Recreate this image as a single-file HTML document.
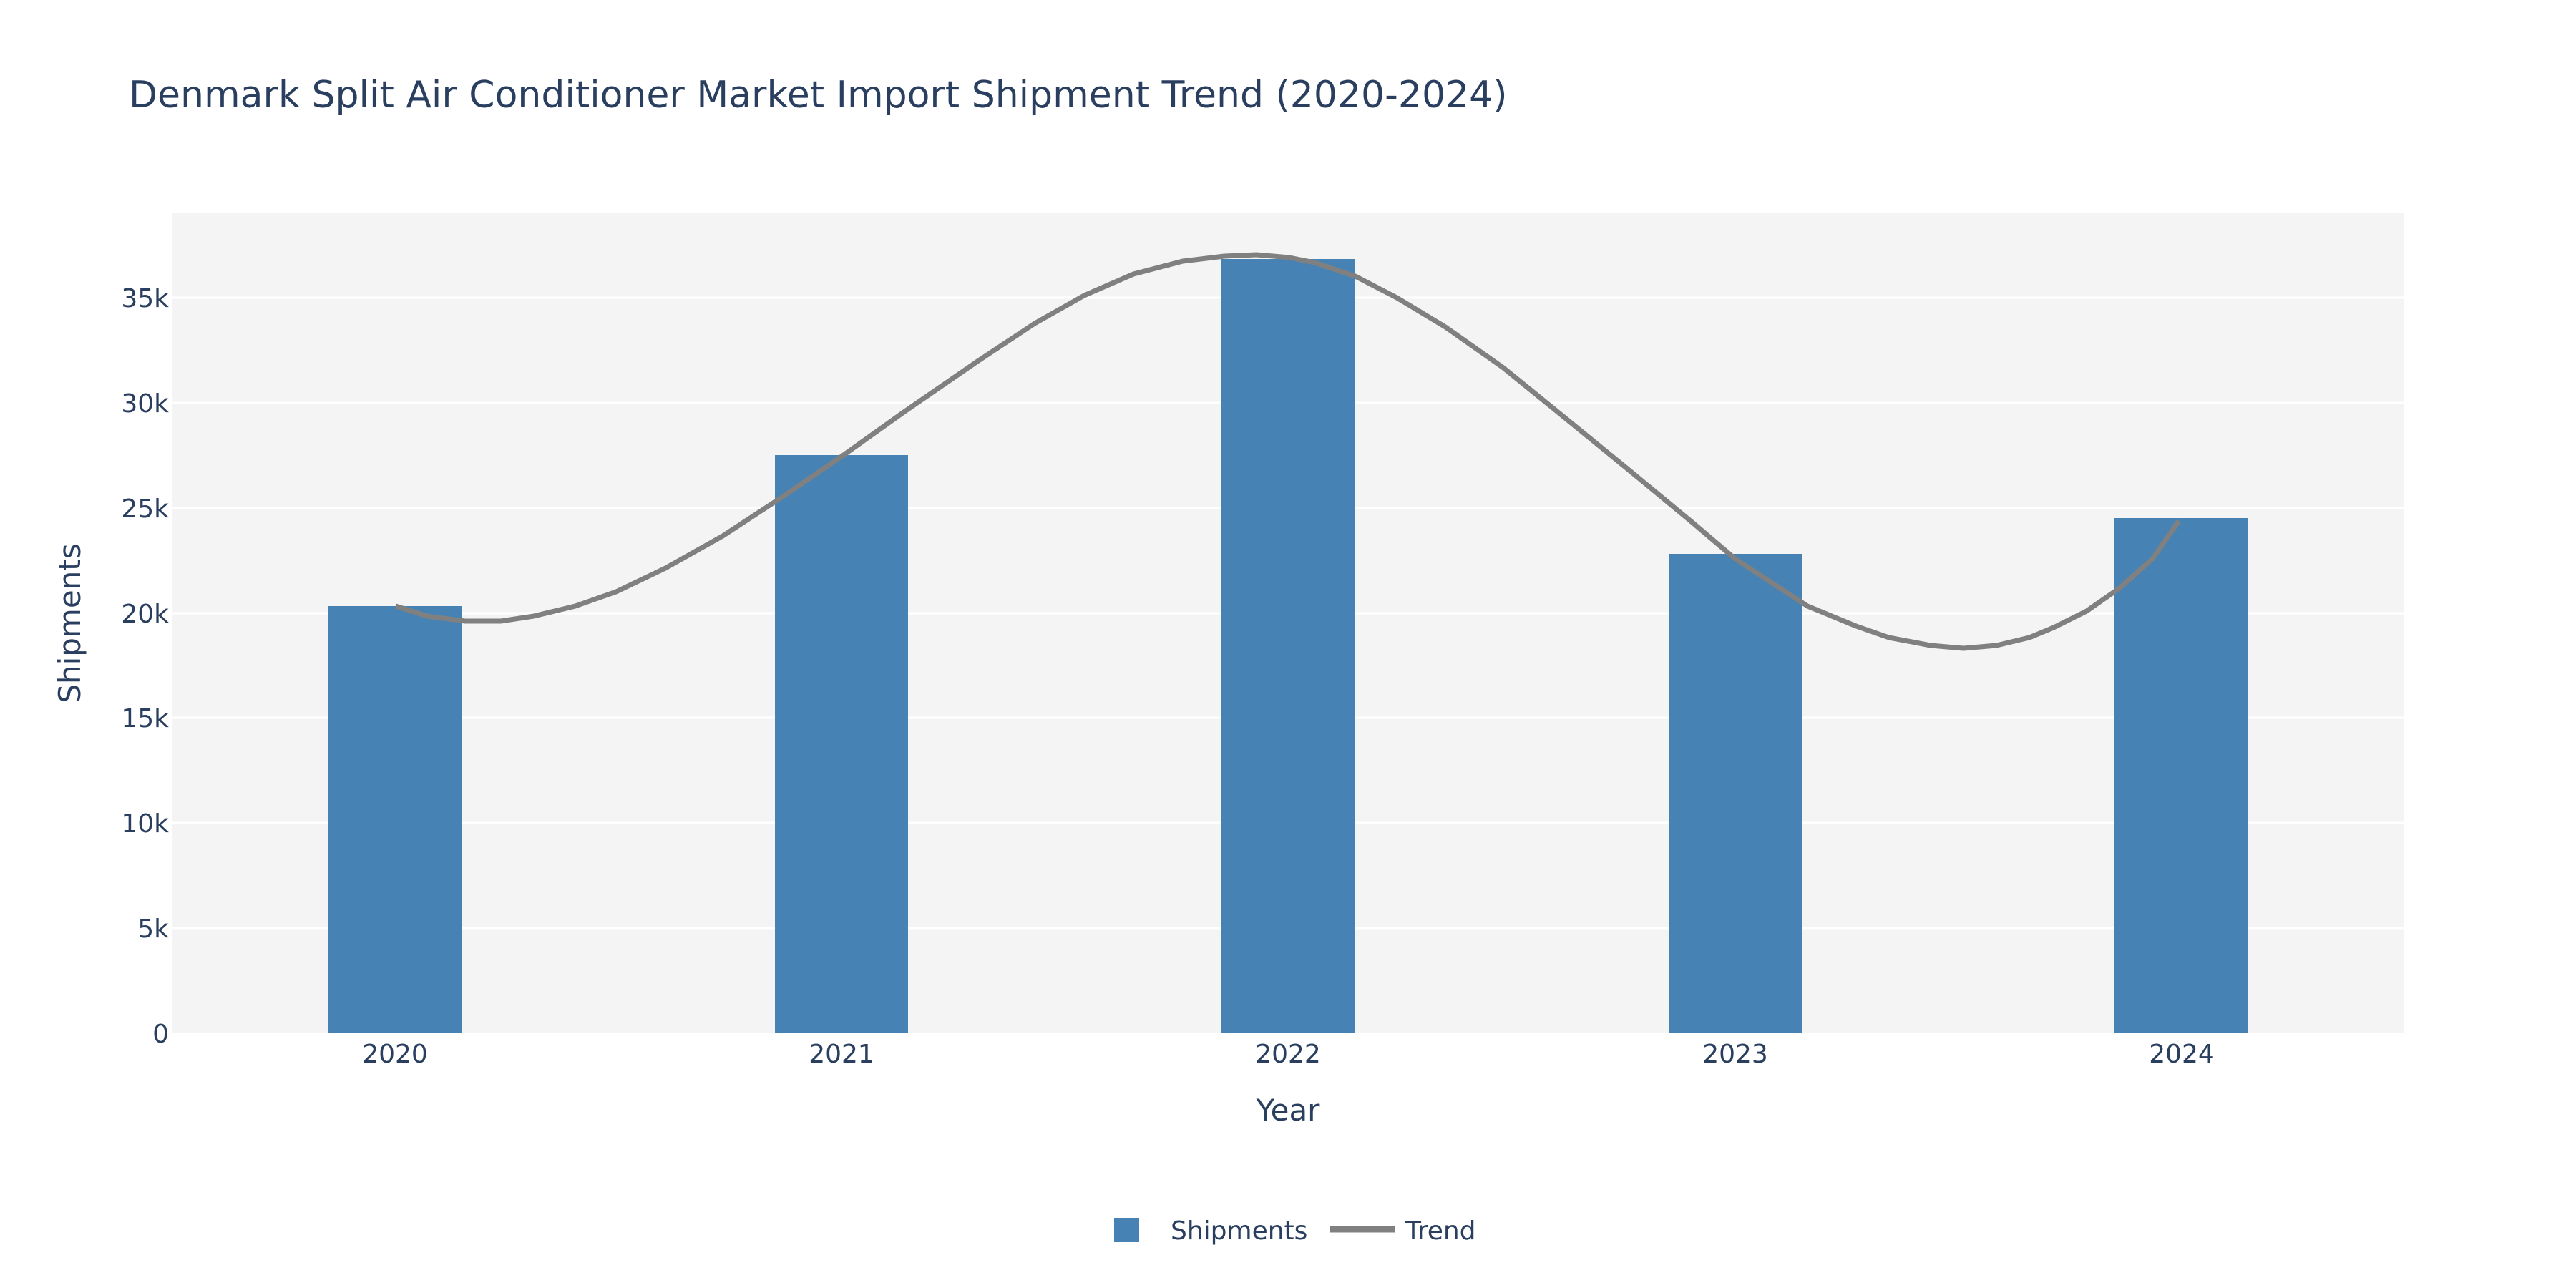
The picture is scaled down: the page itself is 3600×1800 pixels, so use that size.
<!DOCTYPE html>
<html><head><meta charset="utf-8"><style>
html,body{margin:0;padding:0;background:#fff;}
svg{display:block;}
text{font-family:"DejaVu Sans","Liberation Sans",sans-serif;fill:#2a3f5f;}
</style></head><body>
<svg width="3600" height="1800" viewBox="0 0 3600 1800" xmlns="http://www.w3.org/2000/svg">
<rect x="0" y="0" width="3600" height="1800" fill="#fff"/>
<text x="180" y="150" font-size="52">Denmark Split Air Conditioner Market Import Shipment Trend (2020-2024)</text>
<rect x="241" y="298" width="3118" height="1146" fill="#f4f4f4"/>
<g stroke="#fff" stroke-width="3">
<line x1="241" x2="3359" y1="1297" y2="1297"/>
<line x1="241" x2="3359" y1="1150" y2="1150"/>
<line x1="241" x2="3359" y1="1003" y2="1003"/>
<line x1="241" x2="3359" y1="857" y2="857"/>
<line x1="241" x2="3359" y1="710" y2="710"/>
<line x1="241" x2="3359" y1="563" y2="563"/>
<line x1="241" x2="3359" y1="416" y2="416"/>
</g>
<g font-size="36" text-anchor="end">
<text x="236" y="1457">0</text>
<text x="236" y="1310">5k</text>
<text x="236" y="1163">10k</text>
<text x="236" y="1016">15k</text>
<text x="236" y="870">20k</text>
<text x="236" y="723">25k</text>
<text x="236" y="576">30k</text>
<text x="236" y="429">35k</text>
</g>
<g fill="#4682b4">
<rect x="459" y="847" width="186" height="597"/>
<rect x="1083" y="636" width="186" height="808"/>
<rect x="1707" y="362" width="186" height="1082"/>
<rect x="2332" y="774" width="186" height="670"/>
<rect x="2955" y="724" width="186" height="720"/>
</g>
<polyline fill="none" stroke="#808080" stroke-width="7" stroke-linejoin="round" points="553,847 597,861 650,868 700,868 746,861 804,847 861,827 930,794 1010,749 1091,696 1176,638 1263,576 1366,505 1446,452 1515,413 1584,383 1653,365 1711,358 1756,356 1802,360 1837,367 1894,386 1952,416 2020,457 2101,514 2181,579 2273,654 2365,730 2425,781 2480,817 2526,847 2594,875 2640,891 2698,902 2744,906 2790,902 2836,891 2870,877 2916,854 2962,822 3008,781 3045,728"/>
<g font-size="36" text-anchor="middle">
<text x="552" y="1485">2020</text>
<text x="1176" y="1485">2021</text>
<text x="1800" y="1485">2022</text>
<text x="2425" y="1485">2023</text>
<text x="3049" y="1485">2024</text>
</g>
<text x="1800" y="1566" font-size="42" text-anchor="middle">Year</text>
<text transform="translate(112,871) rotate(-90)" font-size="42" text-anchor="middle">Shipments</text>
<rect x="1557" y="1702" width="35" height="34" fill="#4682b4"/>
<text x="1636" y="1732" font-size="36">Shipments</text>
<line x1="1859" x2="1949" y1="1718" y2="1718" stroke="#808080" stroke-width="9"/>
<text x="1964" y="1732" font-size="36">Trend</text>
</svg>
</body></html>
